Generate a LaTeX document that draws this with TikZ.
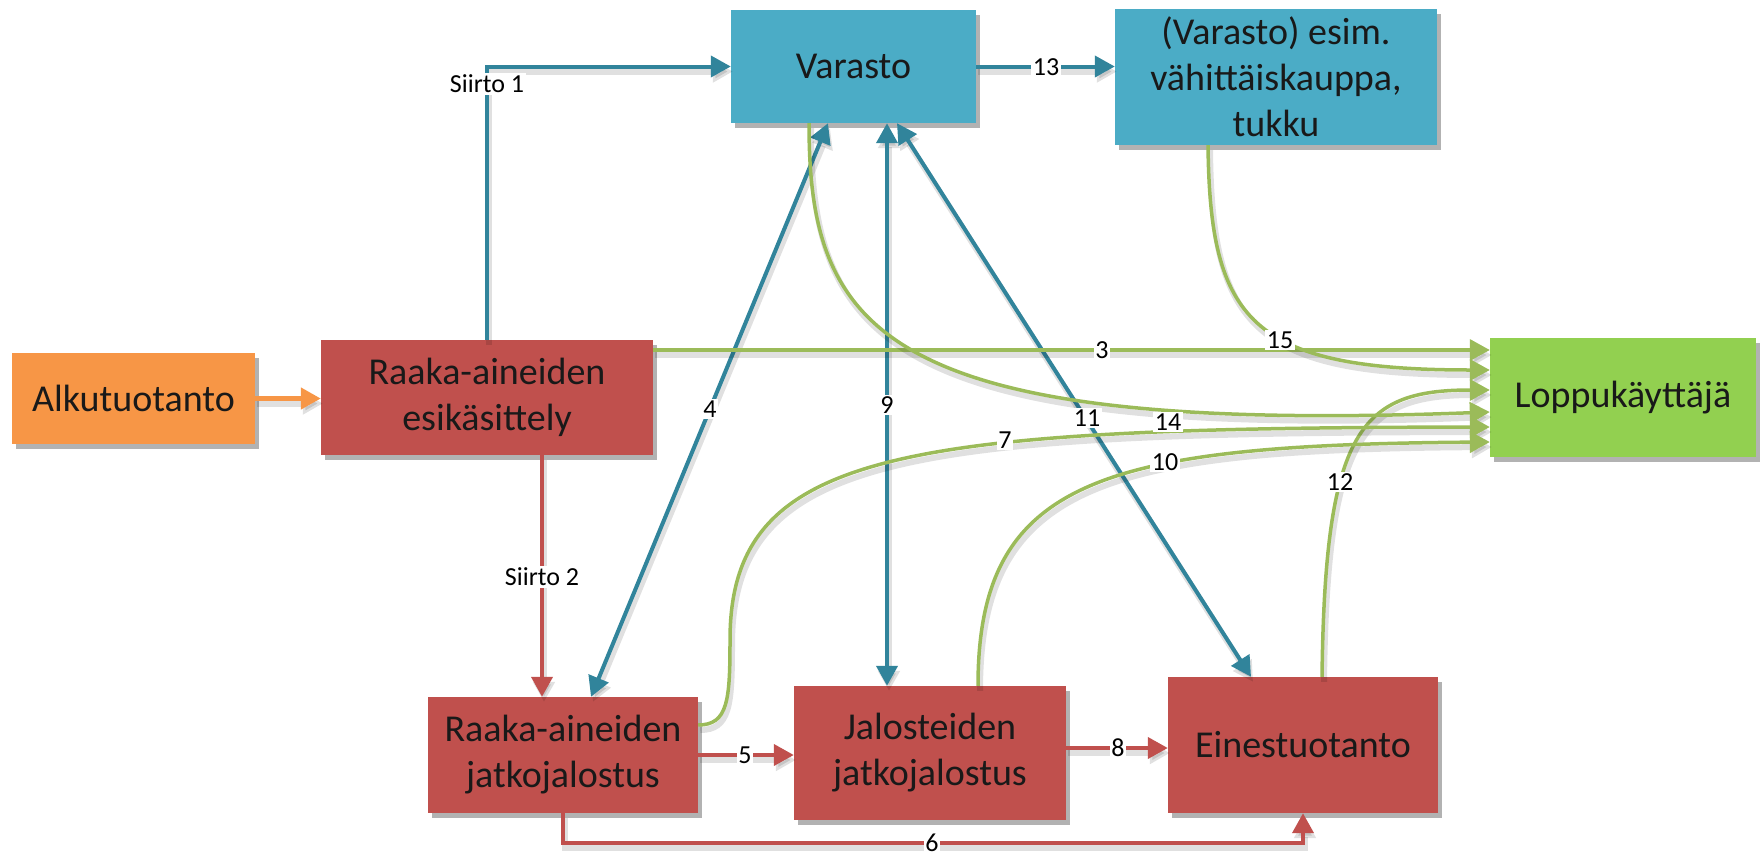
\documentclass[tikz,border=0pt]{standalone}
\usepackage{fontspec}
\setmainfont{Carlito}
\usetikzlibrary{arrows.meta,shadows,calc}
\definecolor{boxblue}{HTML}{4BACC6}
\definecolor{lineblue}{HTML}{31849B}
\definecolor{boxred}{HTML}{C0504D}
\definecolor{boxorange}{HTML}{F79646}
\definecolor{boxgreen}{HTML}{92D050}
\definecolor{linegreen}{HTML}{9BBB59}
\begin{document}
\begin{tikzpicture}[x=1pt,y=-1pt,
  >={Triangle[length=20pt,width=21pt]},
  box/.style={rectangle, draw=none, align=center, inner sep=0pt,
    font=\fontsize{38}{46}\selectfont, text=black!90,
    drop shadow={shadow xshift=4pt,shadow yshift=-5pt,opacity=0.3,fill=black}},
  lbl/.style={fill=white, inner sep=1.5pt, font=\fontsize{26}{28}\selectfont},
  lshadow/.style={preaction={draw=black, opacity=0.12, line width=6pt, transform canvas={xshift=2pt,yshift=-5pt}}},
  bline/.style={draw=lineblue, line width=4pt, lshadow},
  gline/.style={draw=linegreen, line width=3.5pt, lshadow},
  rline/.style={draw=boxred, line width=4pt, lshadow},
  oline/.style={draw=boxorange, line width=4.5pt, lshadow}]
\useasboundingbox (0,0) rectangle (1763,857);

% boxes
\node[box, fill=boxorange, minimum width=243pt, minimum height=91pt] (alku) at (133.5,398.5) {Alkutuotanto};
\node[box, fill=boxred, minimum width=332pt, minimum height=115pt] (esik) at (487,397.5) {Raaka-aineiden\\esikäsittely};
\node[box, fill=boxblue, minimum width=245pt, minimum height=113pt] (varasto) at (853.5,66.5) {Varasto};
\node[box, fill=boxblue, minimum width=322pt, minimum height=136pt] (vahit) at (1276,77) {(Varasto) esim.\\vähittäiskauppa,\\tukku};
\node[box, fill=boxgreen, minimum width=266pt, minimum height=119pt] (loppu) at (1623,397.5) {Loppukäyttäjä};
\node[box, fill=boxred, minimum width=270pt, minimum height=116pt] (rjat) at (563,755) {Raaka-aineiden\\jatkojalostus};
\node[box, fill=boxred, minimum width=272pt, minimum height=134pt] (jal) at (930,753) {Jalosteiden\\jatkojalostus};
\node[box, fill=boxred, minimum width=270pt, minimum height=136pt] (eines) at (1303,745) {Einestuotanto};

% helper coordinates
\coordinate (e8) at ($(jal.east)+(0,-5)$);
\coordinate (a3) at ($(esik.east)+(0,-47.5)$);

% orange
\draw[oline,->] (alku.east) -- (alku.east -| esik.west);

% blue
\draw[bline,->] (esik.north) |- (varasto.west);
\draw[bline,<->] ($(varasto.south)+(-25.5,0)$) -- ($(rjat.north)+(28,0)$);
\draw[bline,<->] ($(varasto.south)+(33.5,0)$) -- ($(jal.north)+(-43,0)$);
\draw[bline,<->] ($(varasto.south)+(43.5,0)$) -- ($(eines.north)+(-52,0)$);
\draw[bline,->] (varasto.east) -- (varasto.east -| vahit.west);

% red
\draw[rline,->] ($(esik.south)+(55,0)$) -- ($(rjat.north)+(-21,0)$);
\draw[rline,->] (rjat.east) -- (rjat.east -| jal.west);
\draw[rline,->] (e8) -- (e8 -| eines.west);
\draw[rline,->] (rjat.south) -- ++(0,30) -| (eines.south);

% green
\draw[gline,->] (a3) -- (a3 -| loppu.west);
\draw[gline,->] ($(vahit.south)+(-68,0)$) .. controls (1210,320) and (1250,370) .. ($(loppu.west)+(0,-27.5)$);
\draw[gline,->] ($(eines.north)+(19,0)$) .. controls (1325,430) and (1360,390) .. ($(loppu.west)+(0,-7.5)$);
\draw[gline,->] ($(varasto.south)+(-44.5,0)$) .. controls (809,330) and (880,435) .. ($(loppu.west)+(0,14.5)$);
\draw[gline,->] ($(rjat.east)+(0,-30)$) .. controls (728,725) and (730,700) .. (730,640) .. controls (730,450) and (900,428) .. ($(loppu.west)+(0,29.5)$);
\draw[gline,->] ($(jal.north)+(48,0)$) .. controls (978,480) and (1100,445) .. ($(loppu.west)+(0,44.5)$);

% labels
\node[lbl] (s1) at (487,84) {Siirto 1};
\node[lbl] (s2) at (542,577) {Siirto 2};
\node[lbl] (n3) at (1102,350) {3};
\node[lbl] (n4) at (710,409) {4};
\node[lbl] (n5) at (745,755) {5};
\node[lbl, inner sep=1pt] (n6) at (932,843) {6};
\node[lbl] (n7) at (1005,440) {7};
\node[lbl] (n8) at (1118,748) {8};
\node[lbl] (n9) at (887,405) {9};
\node[lbl] (n10) at (1165,462) {10};
\node[lbl] (n11) at (1087,418) {11};
\node[lbl] (n12) at (1340,482) {12};
\node[lbl] (n13) at (1046,67) {13};
\node[lbl] (n14) at (1168,422) {14};
\node[lbl] (n15) at (1280,340) {15};
\end{tikzpicture}
\end{document}
